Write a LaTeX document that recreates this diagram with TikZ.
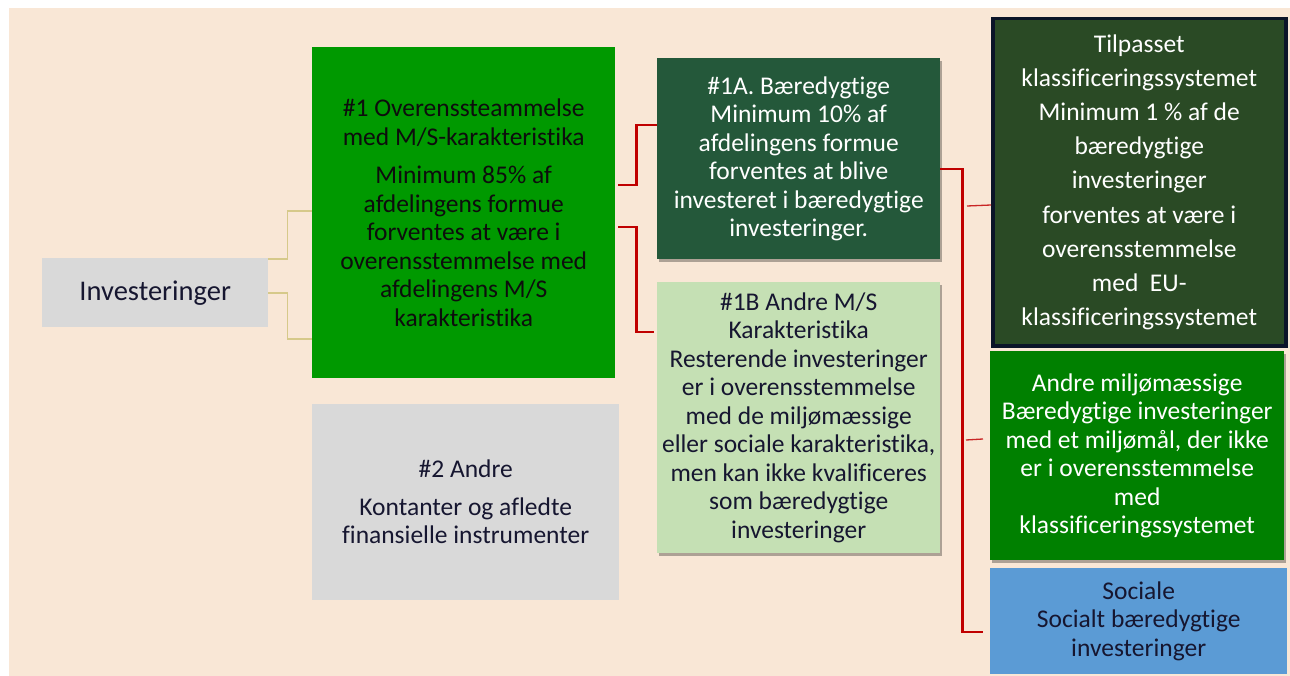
\documentclass[tikz,border=0pt]{standalone}
\usepackage{fontspec}
\setmainfont{Carlito}[Ligatures=CommonOff]
\usepackage{xcolor}
\usepackage{pgf,tikz}
\usetikzlibrary{shapes, shadows, positioning, calc}

\definecolor{peach}{HTML}{F9E7D6}
\definecolor{greybox}{HTML}{D9D9D9}
\definecolor{brightgreen}{HTML}{009900}
\definecolor{darkgreen}{HTML}{24583A}
\definecolor{lightgreen}{HTML}{C5E0B4}
\definecolor{olivegreen}{HTML}{2A4A25}
\definecolor{navyline}{HTML}{0B1428}
\definecolor{midgreen}{HTML}{008000}
\definecolor{skyblue}{HTML}{5B9BD5}
\definecolor{linkred}{HTML}{C00000}
\definecolor{linktan}{HTML}{D6C98A}
\definecolor{inktext}{HTML}{161630}

\begin{document}
\begin{tikzpicture}[x=1pt, y=-1pt,
    box/.style={rectangle, anchor=north west, inner sep=0pt, align=center,
        font=\fontsize{25.5}{28.5}\selectfont},
    shade/.style={drop shadow={shadow xshift=2pt, shadow yshift=-3pt, opacity=0.3, fill=black}},
    redlink/.style={draw=linkred, line width=2.8pt},
    tanlink/.style={draw=linktan, line width=1.5pt},
    stub/.style={draw=linkred!85, line width=1.3pt}]
    \useasboundingbox (0,0) rectangle (1290,676);
    \fill[peach] (9,8) rectangle (1290,676);

    % left column
    \node[box, fill=greybox, text=inktext, minimum width=226pt, minimum height=69pt,
        font=\fontsize{28.5}{30}\selectfont] (Inv) at (42,258) {Investeringer};
    \node[box, fill=brightgreen, text=black!95, minimum width=303pt, minimum height=331pt] (G1) at (312,47)
        {\#1 Overenssteammelse\\ med M/S-karakteristika\\[10pt] Minimum 85\% af\\ afdelingens formue\\
         forventes at være i\\ overensstemmelse med\\ afdelingens M/S\\ karakteristika};
    \node[box, fill=greybox, text=inktext, minimum width=307pt, minimum height=196pt] (G2) at (312,404)
        {\#2 Andre\\[9pt] Kontanter og afledte\\ finansielle instrumenter};

    % middle column
    \node[box, shade, fill=darkgreen, text=white, minimum width=283pt, minimum height=201pt] (A1) at (657,58)
        {\#1A. Bæredygtige\\ Minimum 10\% af\\ afdelingens formue\\ forventes at blive\\
         investeret i bæredygtige\\ investeringer.};
    \node[box, shade, fill=lightgreen, text=inktext, minimum width=283pt, minimum height=271pt] (B1) at (657,282)
        {\#1B Andre M/S\\ Karakteristika\\ Resterende investeringer\\ er i overensstemmelse\\
         med de miljømæssige\\ eller sociale karakteristika,\\ men kan ikke kvalificeres\\
         som bæredygtige\\ investeringer};

    % right column
    \node[box, fill=olivegreen, draw=navyline, line width=3.5pt, text=white, minimum width=293pt, minimum height=327pt,
        font=\fontsize{25.5}{34.2}\selectfont] (Tax) at (991,17)
        {Tilpasset\\ klassificeringssystemet\\ Minimum 1 \% af de\\ bæredygtige\\ investeringer\\
         forventes at være i\\ overensstemmelse\\ med~ EU-\\ klassificeringssystemet};
    \node[box, shade, fill=midgreen, text=white, minimum width=294pt, minimum height=209pt] (Env) at (990,351)
        {Andre miljømæssige\\ Bæredygtige investeringer\\ med et miljømål, der ikke\\
         er i overensstemmelse\\ med\\ klassificeringssystemet};
    \node[box, fill=skyblue, text=inktext, minimum width=297pt, minimum height=106pt] (Soc) at (990,568)
        {Sociale\\ Socialt bæredygtige\\ investeringer};

    % connectors
    \path [tanlink] ([yshift=-1pt]Inv.north east) -- ++(19pt,0) |- ([yshift=-164pt]G1.north west);
    \path [tanlink] ([yshift=-35pt]Inv.north east) -- ++(19pt,0) |- ([yshift=-292pt]G1.north west);
    \path [redlink] ([xshift=3pt,yshift=-138pt]G1.north east) -- ++(18pt,0) |- ([yshift=-67pt]A1.north west);
    \path [redlink] ([xshift=3pt,yshift=-180pt]G1.north east) -- ++(18pt,0) |- ([xshift=-3pt,yshift=-50pt]B1.north west);
    \path [redlink] ([yshift=-111pt]A1.north east) -- ++(22pt,0) |- ([xshift=-7pt,yshift=-64pt]Soc.north west);
    \path [stub] ([xshift=-24pt,yshift=-189pt]Tax.north west) -- ([yshift=-188pt]Tax.north west);
    \path [stub] ([xshift=-24pt,yshift=-89pt]Env.north west) -- ([xshift=-7pt,yshift=-88pt]Env.north west);
\end{tikzpicture}
\end{document}
